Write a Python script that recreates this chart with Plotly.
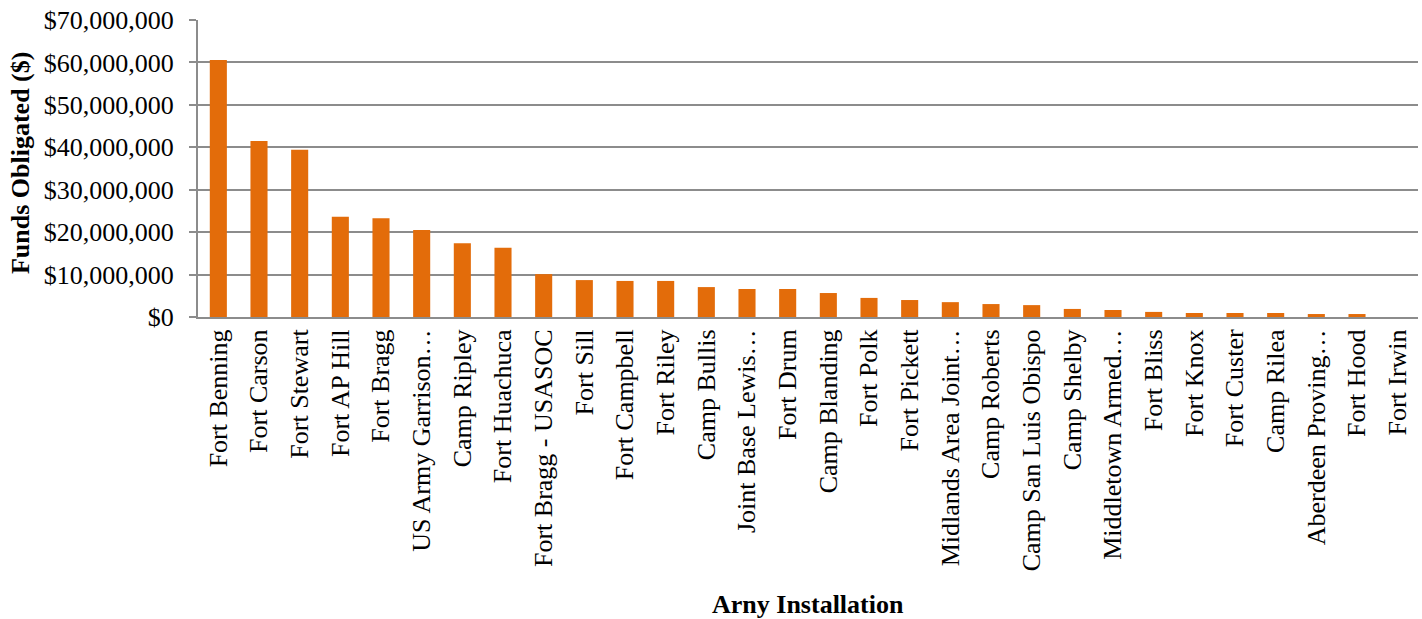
import plotly.graph_objects as go

installations = [
    "Fort Benning", "Fort Carson", "Fort Stewart", "Fort AP Hill", "Fort Bragg",
    "US Army Garrison…", "Camp Ripley", "Fort Huachuca", "Fort Bragg - USASOC",
    "Fort Sill", "Fort Campbell", "Fort Riley", "Camp Bullis", "Joint Base Lewis…",
    "Fort Drum", "Camp Blanding", "Fort Polk", "Fort Pickett", "Midlands Area Joint…",
    "Camp Roberts", "Camp San Luis Obispo", "Camp Shelby", "Middletown Armed…",
    "Fort Bliss", "Fort Knox", "Fort Custer", "Camp Rilea", "Aberdeen Proving…",
    "Fort Hood", "Fort Irwin",
]

funds_obligated = [
    60_600_000, 41_500_000, 39_400_000, 23_600_000, 23_300_000,
    20_500_000, 17_400_000, 16_300_000, 10_100_000,
    8_700_000, 8_500_000, 8_500_000, 7_050_000, 6_600_000,
    6_600_000, 5_650_000, 4_500_000, 4_000_000, 3_500_000,
    3_050_000, 2_800_000, 1_900_000, 1_650_000,
    1_200_000, 950_000, 950_000, 950_000, 700_000,
    700_000, 0,
]

y_ticks = [0, 10_000_000, 20_000_000, 30_000_000, 40_000_000, 50_000_000, 60_000_000, 70_000_000]
y_tick_text = ["$0", "$10,000,000", "$20,000,000", "$30,000,000", "$40,000,000",
               "$50,000,000", "$60,000,000", "$70,000,000"]

SERIF = "Liberation Serif, Times New Roman, serif"
GRID = "#8c8c8c"

fig = go.Figure(
    go.Bar(
        x=installations,
        y=funds_obligated,
        marker=dict(color="#E36C0A", line=dict(width=0)),
        hoverinfo="x+y",
    )
)

fig.update_layout(
    width=1422,
    height=619,
    margin=dict(l=198, r=4, t=20, b=302),
    paper_bgcolor="white",
    plot_bgcolor="white",
    bargap=0.58,
    showlegend=False,
    font=dict(family=SERIF, size=26, color="black"),
)

fig.update_xaxes(
    type="category",
    tickangle=-90,
    tickfont=dict(family=SERIF, size=26, color="black"),
    showline=True,
    linecolor=GRID,
    linewidth=2,
    ticks="",
    showgrid=False,
)

fig.update_yaxes(
    range=[0, 70_000_000],
    tickvals=y_ticks,
    ticktext=y_tick_text,
    tickfont=dict(family=SERIF, size=26, color="black"),
    ticklabelstandoff=10,
    showgrid=True,
    gridcolor=GRID,
    gridwidth=1.5,
    showline=True,
    linecolor=GRID,
    linewidth=2,
    ticks="outside",
    ticklen=7,
    tickcolor=GRID,
    tickwidth=1.5,
    zeroline=False,
)

fig.add_annotation(
    text="<b>Funds Obligated ($)</b>",
    xref="paper", yref="paper",
    x=-0.1455, y=0.52,
    xanchor="center", yanchor="middle",
    textangle=-90,
    showarrow=False,
    font=dict(family=SERIF, size=26, color="black"),
)

fig.add_annotation(
    text="<b>Arny Installation</b>",
    xref="paper", yref="paper",
    x=0.5, y=-0.968,
    xanchor="center", yanchor="middle",
    showarrow=False,
    font=dict(family=SERIF, size=26, color="black"),
)

fig.write_html("out.html")
